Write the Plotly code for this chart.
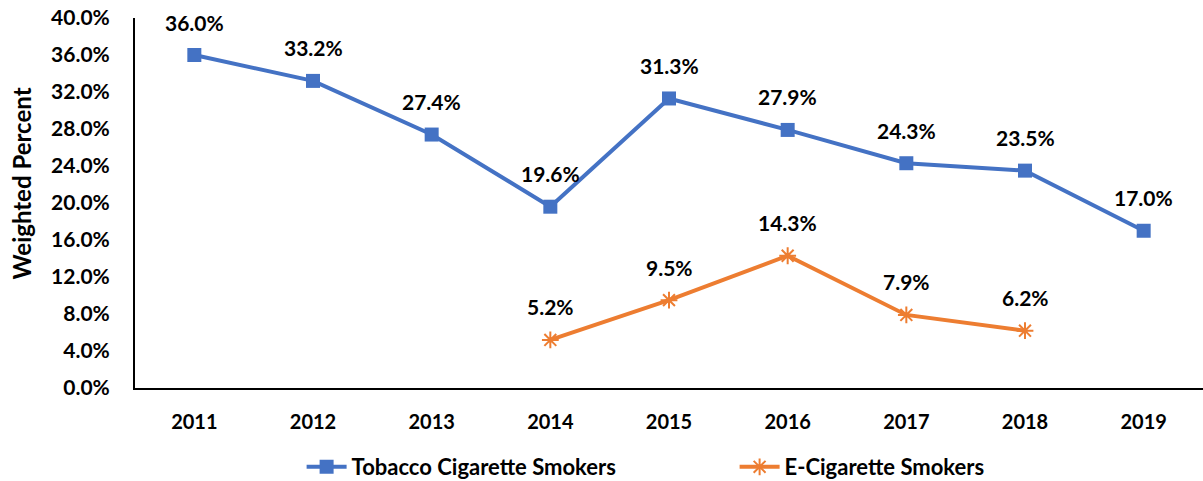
import plotly.graph_objects as go

years = ["2011", "2012", "2013", "2014", "2015", "2016", "2017", "2018", "2019"]
tobacco = [36.0, 33.2, 27.4, 19.6, 31.3, 27.9, 24.3, 23.5, 17.0]
ecig_years = ["2014", "2015", "2016", "2017", "2018"]
ecig = [5.2, 9.5, 14.3, 7.9, 6.2]
y_ticks = [0, 4, 8, 12, 16, 20, 24, 28, 32, 36, 40]

BLUE = "#4472C4"
ORANGE = "#ED7D31"
FONT = "Lato"

fig = go.Figure()
fig.add_trace(go.Scatter(
    x=years, y=tobacco, name="Tobacco Cigarette Smokers",
    mode="lines+markers",
    line=dict(color=BLUE, width=4),
    marker=dict(symbol="square", size=14, color=BLUE),
))
fig.add_trace(go.Scatter(
    x=ecig_years, y=ecig, name="E-Cigarette Smokers",
    mode="lines+markers",
    line=dict(color=ORANGE, width=4),
    marker=dict(symbol="asterisk-open", size=14, color=ORANGE,
                line=dict(color=ORANGE, width=2)),
))

for xs, ys in ((years, tobacco), (ecig_years, ecig)):
    for xv, yv in zip(xs, ys):
        fig.add_annotation(x=years.index(xv), y=yv, xref="x", yref="y",
                           text=f"{yv:.1f}%", showarrow=False, yshift=33,
                           font=dict(family=FONT, size=21, color="black", weight="bold"))

# y-axis title (placed like the original, slightly above the plot centre)
fig.add_annotation(text="Weighted Percent", xref="paper", yref="paper",
                   x=-0.1067, y=0.553, xanchor="center", yanchor="middle",
                   textangle=-90, showarrow=False,
                   font=dict(family=FONT, size=24, color="black", weight="bold"))

fig.update_layout(
    width=1203, height=481,
    margin=dict(l=135, r=0, t=18, b=93, autoexpand=False),
    paper_bgcolor="white", plot_bgcolor="white",
    font=dict(family=FONT, size=16, color="black"),
    showlegend=True,
    legend=dict(orientation="h", x=0.156, xanchor="left", y=-0.2135, yanchor="middle",
                font=dict(family=FONT, size=22, color="black", weight="bold"),
                itemwidth=40, tracegroupgap=0, entrywidthmode="pixels", entrywidth=378),
)
fig.update_xaxes(
    type="category", range=[-0.5, 8.5], showline=True, linecolor="black", linewidth=2,
    showgrid=False, ticks="", ticklabelstandoff=15, automargin=False,
    tickfont=dict(family=FONT, size=20, color="black", weight="bold"),
)
fig.update_yaxes(
    range=[0, 40], tickvals=y_ticks, ticktext=[f"{v:.1f}%" for v in y_ticks],
    showline=True, linecolor="black", linewidth=2, showgrid=False, zeroline=False,
    ticks="", ticklabelstandoff=19, automargin=False,
    tickfont=dict(family=FONT, size=21, color="black", weight="bold"),
)

fig.write_html("out.html", config={"displayModeBar": False, "responsive": False},
               post_script="document.body.style.margin='0';")
